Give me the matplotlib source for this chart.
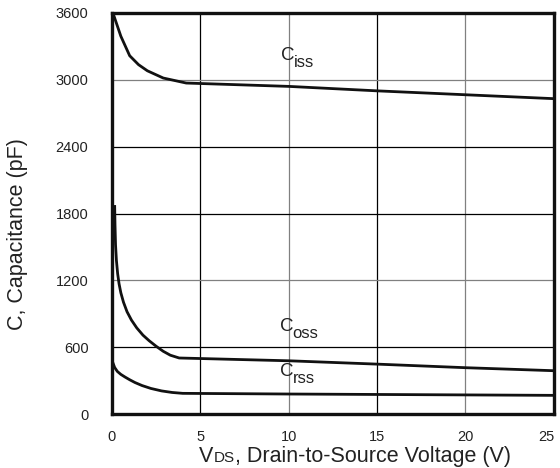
import matplotlib.pyplot as plt
import matplotlib.transforms as mtransforms
from matplotlib.offsetbox import TextArea, HPacker, AnnotationBbox

plt.rcParams['font.family'] = ['Liberation Sans', 'DejaVu Sans']

# capacitance vs drain-source voltage (pF)
vds_iss = [0.05, 0.5, 1.0, 1.5, 2.0, 2.9, 4.2, 10, 15, 20, 25]
ciss = [3600, 3390, 3215, 3135, 3080, 3015, 2970, 2940, 2900, 2865, 2830]

vds_oss = [0.15, 0.17, 0.2, 0.25, 0.32, 0.4, 0.5, 0.65, 0.85, 1.1, 1.4, 1.75, 2.1, 2.5, 2.9, 3.3, 3.8,
           10, 15, 20, 25]
coss = [1876, 1700, 1520, 1380, 1260, 1170, 1090, 1005, 920, 845, 775, 710, 660, 610, 565, 530, 505,
        480, 450, 418, 391]

vds_rss = [0.03, 0.15, 0.3, 0.5, 0.75, 1.0, 1.3, 1.7, 2.2, 2.8, 3.4, 4.0, 10, 15, 20, 25]
crss = [471, 420, 385, 358, 333, 310, 285, 258, 232, 210, 196, 188, 182, 178, 174, 170]

xticks = [0, 5, 10, 15, 20, 25]
yticks = [0, 600, 1200, 1800, 2400, 3000, 3600]

fig = plt.figure(figsize=(5.6, 4.68), dpi=100)
ax = fig.add_axes([0.2, 0.1147, 0.789, 0.858])

# grid lines alternate black / grey
for x, c in zip([5, 10, 15, 20], ['black', '#808080', 'black', '#808080']):
    ax.axvline(x, color=c, lw=0.9, zorder=1)
for y, c in zip([600, 1200, 1800, 2400, 3000], ['black', '#808080', 'black', 'black', '#808080']):
    ax.axhline(y, color=c, lw=0.9, zorder=1)

for vx, cy in [(vds_iss, ciss), (vds_oss, coss), (vds_rss, crss)]:
    ax.plot(vx, cy, color='#111111', lw=2.0, solid_capstyle='butt', zorder=3)

ax.set_xlim(0, 25)
ax.set_ylim(0, 3600)
ax.set_xticks(xticks)
ax.set_yticks(yticks)
ax.tick_params(length=0, labelsize=10.5, colors='#222222')
ax.tick_params(axis='y', pad=17)
ax.tick_params(axis='x', pad=11)
for s in ax.spines.values():
    s.set_linewidth(2.4)
    s.set_color('#111111')

# last x label sits a little inside the frame
last = ax.get_xticklabels()[-1]
last.set_transform(last.get_transform() + mtransforms.ScaledTranslation(-7 / 100, 0, fig.dpi_scale_trans))

ax.set_ylabel('C, Capacitance (pF)', fontsize=15.5, color='#222222')
ax.yaxis.set_label_coords(-0.19, 0.45)

# curve names with subscripts
for name, x, y in [('iss', 9.95, 3220), ('oss', 9.9, 791), ('rss', 9.9, 382)]:
    ax.annotate('C', (x, y), fontsize=13.5, color='#222222', ha='center', va='center')
    ax.annotate(name, (x, y), xytext=(4, -5), textcoords='offset points',
                fontsize=12, color='#222222', ha='left', va='center')

# x label with small-caps DS subscript
parts = [TextArea('V', textprops=dict(fontsize=15.5, color='#222222')),
         TextArea('DS', textprops=dict(fontsize=11, color='#222222')),
         TextArea(', Drain-to-Source Voltage (V)', textprops=dict(fontsize=15.5, color='#222222'))]
box = HPacker(children=parts, align='baseline', pad=0, sep=0)
ab = AnnotationBbox(box, (0.55, -0.105), xycoords='axes fraction', frameon=False,
                    box_alignment=(0.5, 0.5))
ax.add_artist(ab)

fig.savefig('out.png', dpi=100)
